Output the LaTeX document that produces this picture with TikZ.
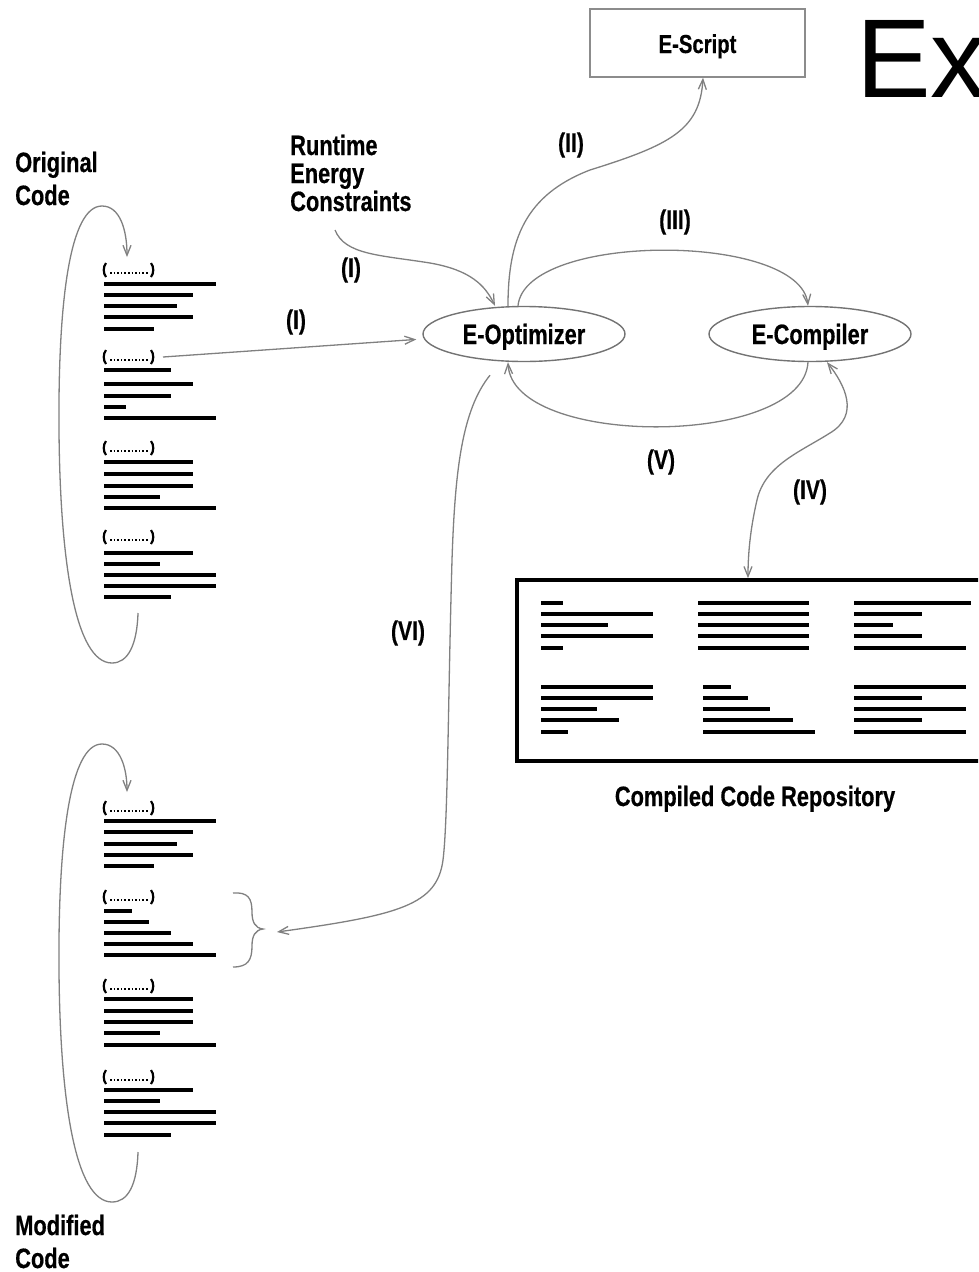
\documentclass[tikz,border=0pt]{standalone}
\usepackage{fontspec}
\newfontfamily\cond{Liberation Sans}[FakeStretch=0.78, BoldFeatures={FakeBold=0.5}]
\newfontfamily\lib{Liberation Sans}
\usetikzlibrary{arrows.meta,shapes.geometric,calc}
\tikzset{
  lbl/.style={font=\cond\bfseries\fontsize{28}{28}\selectfont, inner sep=0pt, anchor=base west},
  lab/.style={font=\cond\bfseries\fontsize{27}{27}\selectfont, inner sep=0pt},
  conn/.style={draw=black!50, line width=1.3pt},
  tipend/.style={-{Straight Barb[length=10pt,width=8pt]}},
  tipboth/.style={{Straight Barb[length=10pt,width=8pt]}-{Straight Barb[length=10pt,width=8pt]}},
  ell/.style={ellipse, draw=black!55, line width=1.4pt, minimum width=202pt, minimum height=55pt, inner sep=0pt,
     font=\cond\bfseries\fontsize{28}{28}\selectfont, text depth=0pt, text height=20pt},
  sbox/.style={rectangle, draw=black!45, line width=1.4pt, minimum width=215pt, minimum height=68pt, inner sep=0pt,
     font=\cond\bfseries\fontsize{26}{26}\selectfont, text depth=0pt, text height=20pt},
  repobox/.style={rectangle, draw=black, line width=3.6pt, minimum width=473pt, minimum height=181pt, inner sep=0pt},
  cl/.style={line width=3.8pt},
  rl/.style={line width=3.6pt},
  brk/.style={line width=2.2pt},
  dots/.style={line width=1.4pt, dash pattern=on 1.6pt off 2pt}
}
\newcommand\codebr[1]{%
  \draw[brk] (106,#1-7) .. controls (103,#1-3) and (103,#1+3) .. (106,#1+7);
  \draw[brk] (151,#1-7) .. controls (154,#1-3) and (154,#1+3) .. (151,#1+7);
  \draw[dots] (110,#1+3) -- (148,#1+3);}
\begin{document}
\begin{tikzpicture}[x=1pt,y=-1pt]
\useasboundingbox (0,0) rectangle (978,1272);
\clip (0,0) rectangle (978,1272);

% ---------- texts ----------
\node[lbl] (orig1) at (15,172) {Original};
\node[lbl] (orig2) at (15,205) {Code};
\node[lbl] (mod1) at (15,1235) {Modified};
\node[lbl] (mod2) at (15,1268) {Code};
\node[lbl] (rt1) at (290,155) {Runtime};
\node[lbl] (rt2) at (290,183) {Energy};
\node[lbl] (rt3) at (290,211) {Constraints};
\node[font=\lib\fontsize{112}{112}\selectfont, inner sep=0pt, anchor=base west] (ex) at (856,97) {Ex};

\node[lab] (l1a) at (351,270) {(I)};
\node[lab] (l1b) at (296,322) {(I)};
\node[lab] (l2) at (571,145) {(II)};
\node[lab] (l3) at (675,222) {(III)};
\node[lab] (l5) at (661,462) {(V)};
\node[lab] (l4) at (810,492) {(IV)};
\node[lab] (l6) at (408,633) {(VI)};

% ---------- main nodes ----------
\node[ell] (opt) at (524,334) {E-Optimizer};
\node[ell] (comp) at (810,334) {E-Compiler};
\node[sbox] (escr) at (697.5,43) {E-Script};
\node[repobox] (repo) at (753.5,670.5) {};
\node[lab, font=\cond\bfseries\fontsize{28}{28}\selectfont, anchor=base] (repolab) at (755,806) {Compiled Code Repository};

% ---------- original code ----------
\foreach \b in {270,357,448,537} {\codebr{\b}}
\foreach \y/\x in {284/216,295/193,306/177,317/193,329/154,
                   370/171,384/193,396/171,407/126,418/216,
                   462/193,474/193,486/193,497/160,508/216,
                   553/193,564/160,575/216,586/216,597/171}
  \draw[cl] (104,\y) -- (\x,\y);

% ---------- modified code ----------
\foreach \b in {808,897,986,1077} {\codebr{\b}}
\foreach \y/\x in {821/216,832/193,844/177,855/193,866/154,
                   911/132,922/149,933/171,944/193,955/216,
                   999/193,1011/193,1022/193,1033/160,1045/216,
                   1090/193,1101/160,1112/216,1123/216,1135/171}
  \draw[cl] (104,\y) -- (\x,\y);

% ---------- repository content ----------
\foreach \y/\x in {603/563,614/653,625/608,636/653,648/563,
                   687/653,698/653,709/597,720/619,732/568}
  \draw[rl] (541,\y) -- (\x,\y);
\foreach \y in {603,614,625,636,648}
  \draw[rl] (698,\y) -- (809,\y);
\foreach \y/\x in {687/731,698/748,709/770,720/793,732/815}
  \draw[rl] (703,\y) -- (\x,\y);
\foreach \y/\x in {603/971,614/922,625/893,636/922,648/966,
                   687/966,698/922,709/966,720/922,732/966}
  \draw[rl] (854,\y) -- (\x,\y);

% ---------- coordinates ----------
\coordinate (b2) at (163,357);
\coordinate (rts) at (335,230);
\coordinate (bt) at (263,929);
\coordinate (loopAs) at (138,613);
\coordinate (loopAe) at (127,257);
\coordinate (loopBs) at (138,1152);
\coordinate (loopBe) at (127,792);

% ---------- loops ----------
\draw[conn,tipend] (loopAs) .. controls (137,645) and (128,663) .. (112,663)
   .. controls (75,663) and (60,560) .. (59,430)
   .. controls (58,300) and (70,206) .. (102,206)
   .. controls (120,206) and (127,230) .. (loopAe);
\draw[conn,tipend] (loopBs) .. controls (137,1185) and (128,1202) .. (112,1202)
   .. controls (75,1202) and (60,1100) .. (59,970)
   .. controls (58,840) and (70,744) .. (102,744)
   .. controls (120,744) and (127,768) .. (loopBe);

% ---------- brace ----------
\draw[conn] (233,893) .. controls (248,892) and (252,898) .. (252,912)
   .. controls (252,922) and (255,928) .. (bt)
   .. controls (255,930) and (252,936) .. (252,946)
   .. controls (252,960) and (248,967) .. (233,967);

% ---------- connectors ----------
\draw[conn,tipend,shorten >=6pt] (b2) -- ([yshift=-5pt]opt.west);
\draw[conn,tipend] (rts) .. controls (345,255) and (380,255) .. (430,263)
   .. controls (470,270) and (485,285) .. ([xshift=-29pt]opt.north);
\draw[conn,tipend] ([xshift=-16pt]opt.north) .. controls (508,240) and (525,195) .. (590,170)
   .. controls (670,145) and (700,130) .. ([xshift=5.5pt]escr.south);
\draw[conn,tipend] ([xshift=-6pt]opt.north) .. controls (525,232) and (800,232) .. ([xshift=-2pt]comp.north);
\draw[conn,tipend] ([xshift=-2pt]comp.south) .. controls (803,448) and (512,448) .. ([xshift=-16pt]opt.south);
\draw[conn,tipboth] ([xshift=17pt]comp.south) .. controls (845,385) and (860,415) .. (830,433)
   .. controls (800,452) and (765,465) .. (757,500)
   .. controls (750,530) and (748,555) .. ([xshift=-5.5pt]repo.north);
\draw[conn,tipend] ([xshift=-34pt,yshift=-13pt]opt.south) .. controls (462,410) and (455,470) .. (452,560)
   .. controls (448,700) and (448,820) .. (443,860)
   .. controls (437,905) and (400,915) .. ([xshift=14pt,yshift=-3pt]bt);
\end{tikzpicture}
\end{document}
